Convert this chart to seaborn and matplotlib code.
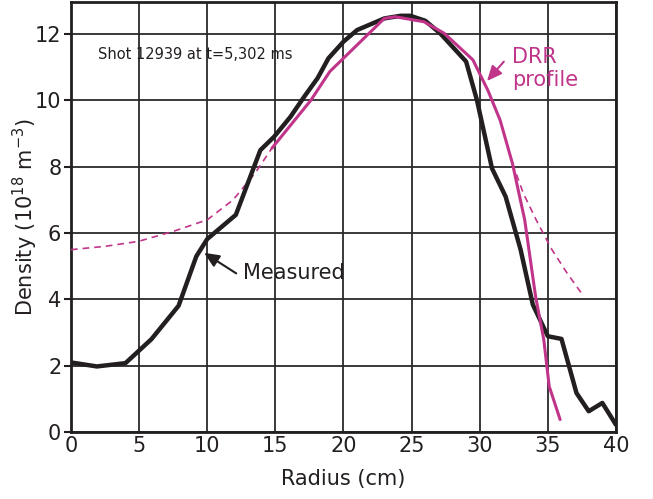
import matplotlib
matplotlib.use("Agg")
import matplotlib.pyplot as plt
import seaborn as sns
import pandas as pd

# measured density profile (black)
meas_r = [0, 1.9, 4.0, 5.9, 7.9, 9.2, 10.0, 12.1, 13.9, 14.9, 16.1, 17.1, 18.1, 18.9,
          20.0, 21.0, 23.0, 24.2, 24.9, 26.0, 27.1, 29.0, 29.8, 30.9, 31.9, 33.0,
          33.9, 35.0, 36.0, 37.1, 38.0, 39.0, 40.0]
meas_n = [2.1, 1.98, 2.08, 2.8, 3.81, 5.3, 5.82, 6.55, 8.5, 8.9, 9.5, 10.1, 10.67, 11.27,
          11.77, 12.12, 12.47, 12.55, 12.55, 12.4, 12.02, 11.17, 10.0, 7.95, 7.1, 5.5,
          3.84, 2.89, 2.81, 1.18, 0.63, 0.88, 0.22]

# DRR profile (solid part)
drr_r = [14.75, 17.6, 19.0, 21.0, 23.0, 23.8, 25.9, 27.4, 29.5, 30.6, 31.5, 32.4,
         33.3, 34.1, 34.7, 35.1, 35.9]
drr_n = [8.56, 10.0, 10.87, 11.67, 12.47, 12.52, 12.37, 12.02, 11.22, 10.3, 9.4, 8.1,
         6.4, 4.09, 2.79, 1.38, 0.38]

# DRR extrapolations (dashed)
drr_in_r = [0, 2.5, 4.95, 7.5, 10.0, 11.9, 13.5, 14.75]
drr_in_n = [5.5, 5.6, 5.75, 6.05, 6.4, 7.0, 7.8, 8.56]
drr_out_r = [32.4, 33.2, 34.2, 35.3, 36.4, 37.55]
drr_out_n = [8.1, 7.2, 6.35, 5.5, 4.8, 4.14]

x_ticks = [0, 5, 10, 15, 20, 25, 30, 35, 40]
y_ticks = [0, 2, 4, 6, 8, 10, 12]

black = "#231f20"
pink = "#c0358a"

sns.set_style("white")
plt.rcParams["font.family"] = ["DejaVu Sans"]

fig = plt.figure(figsize=(6.53, 4.99), dpi=100)
ax = fig.add_axes([0.1087, 0.134, 0.8346, 0.861])

df_m = pd.DataFrame({"r": meas_r, "n": meas_n})
df_d = pd.DataFrame({"r": drr_r, "n": drr_n})
df_di = pd.DataFrame({"r": drr_in_r, "n": drr_in_n})
df_do = pd.DataFrame({"r": drr_out_r, "n": drr_out_n})

sns.lineplot(data=df_di, x="r", y="n", ax=ax, color=pink, lw=1.2, linestyle=(0, (4, 3)), sort=False, zorder=3)
sns.lineplot(data=df_do, x="r", y="n", ax=ax, color=pink, lw=1.2, linestyle=(0, (4, 3)), sort=False, zorder=3)
sns.lineplot(data=df_m, x="r", y="n", ax=ax, color=black, lw=3.2, sort=False, zorder=4)
sns.lineplot(data=df_d, x="r", y="n", ax=ax, color=pink, lw=2.2, sort=False, zorder=5)

ax.set_xlim(0, 40)
ax.set_ylim(0, 12.95)
ax.set_xticks(x_ticks)
ax.set_yticks(y_ticks)
ax.grid(True, color="#2a2a2a", lw=1.3)
for s in ax.spines.values():
    s.set_color(black)
    s.set_linewidth(2)
ax.tick_params(axis="y", length=5, width=1.5, color=black, labelsize=15, pad=2, left=True, labelcolor=black)
ax.tick_params(axis="x", length=0, labelsize=15, pad=3, labelcolor=black)
ax.set_xlabel("Radius (cm)", fontsize=15, labelpad=9, color=black)
ax.set_ylabel("Density (10$^{18}$ m$^{-3}$)", fontsize=15, labelpad=-4, color=black)

ax.text(1.98, 11.37, "Shot 12939 at t=5,302 ms", fontsize=10.5, va="center", ha="left", color=black)
ax.text(32.4, 10.95, "DRR\nprofile", fontsize=15, color=pink, va="center", ha="left", linespacing=1.2)
ax.annotate("", xy=(30.4, 10.52), xytext=(31.9, 11.23),
            arrowprops=dict(arrowstyle="-|>,head_length=0.9,head_width=0.4", color=pink, lw=1.5))
ax.text(12.65, 4.8, "Measured", fontsize=15, color=black, va="center", ha="left")
ax.annotate("", xy=(9.6, 5.45), xytext=(12.3, 4.74),
            arrowprops=dict(arrowstyle="-|>,head_length=0.9,head_width=0.4", color=black, lw=1.5))

fig.savefig("out.png", dpi=100)
